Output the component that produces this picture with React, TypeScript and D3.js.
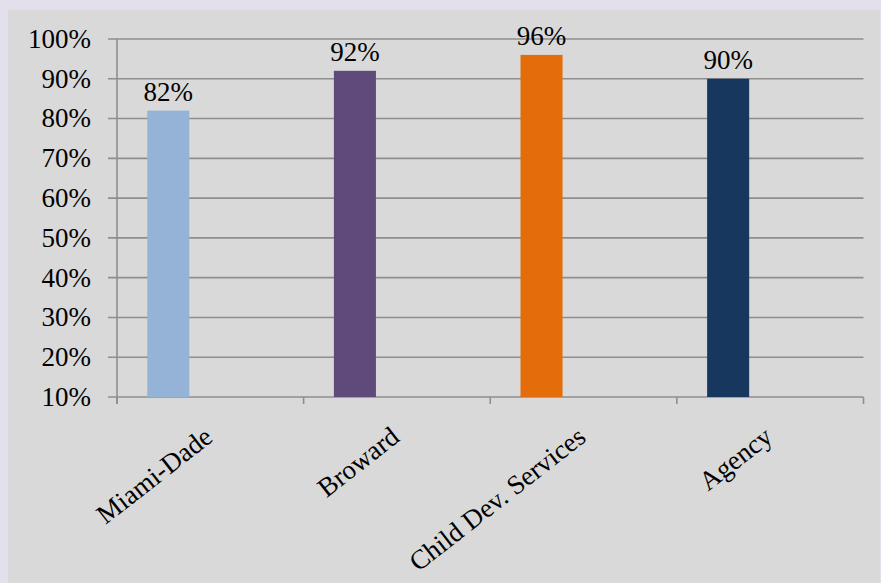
import { useRef, useEffect } from "react"
import * as d3 from "d3"

const categories = ["Miami-Dade", "Broward", "Child Dev. Services", "Agency"]
const values = [0.82, 0.92, 0.96, 0.9]
const barColors = ["#95b3d7", "#604a7b", "#e46c0a", "#17375e"]
const yTicks = [0.1, 0.2, 0.3, 0.4, 0.5, 0.6, 0.7, 0.8, 0.9, 1.0]

export default function App() {
  const svgRef = useRef<SVGSVGElement>(null)

  useEffect(() => {
    if (!svgRef.current) return
    const svg = d3.select(svgRef.current)
    svg.selectAll("*").remove()

    const width = 881
    const height = 583
    const font = "'Liberation Serif', 'Times New Roman', serif"
    const fontSize = 27
    const gridColor = "#8e8e8e"

    // backgrounds
    svg.append("rect").attr("width", width).attr("height", height).attr("fill", "#e4dfec")
    svg.append("rect").attr("x", 8).attr("y", 10).attr("width", 872).attr("height", height - 10).attr("fill", "#d9d9d9")

    const left = 117
    const right = 863.5
    const top = 39
    const bottom = 397

    const y = d3.scaleLinear().domain([0.1, 1.0]).range([bottom, top])
    const x = d3.scaleBand<string>().domain(categories).range([left, right]).padding(0)
    // each category holds three series slots, only the first is filled
    const slot = d3.scaleBand<string>().domain(["a", "b", "c"]).range([0, x.bandwidth()]).paddingInner(0).paddingOuter(0.72)

    const g = svg.append("g")

    // gridlines + y ticks
    g.selectAll("line.grid")
      .data(yTicks)
      .join("line")
      .attr("class", "grid")
      .attr("x1", left - 9)
      .attr("x2", right)
      .attr("y1", (d) => y(d))
      .attr("y2", (d) => y(d))
      .attr("stroke", gridColor)
      .attr("stroke-width", 1.6)

    // y axis line
    g.append("line")
      .attr("x1", left)
      .attr("x2", left)
      .attr("y1", top)
      .attr("y2", bottom + 7)
      .attr("stroke", gridColor)
      .attr("stroke-width", 1.6)

    // category ticks
    const tickXs = categories.map((c) => x(c)!).concat([right])
    g.selectAll("line.xtick")
      .data(tickXs)
      .join("line")
      .attr("class", "xtick")
      .attr("x1", (d) => d)
      .attr("x2", (d) => d)
      .attr("y1", bottom)
      .attr("y2", bottom + 7)
      .attr("stroke", gridColor)
      .attr("stroke-width", 1.6)

    // y labels
    g.selectAll("text.ylab")
      .data(yTicks)
      .join("text")
      .attr("class", "ylab")
      .attr("x", 91)
      .attr("y", (d) => y(d))
      .attr("dy", "0.33em")
      .attr("text-anchor", "end")
      .attr("font-family", font)
      .attr("font-size", fontSize)
      .attr("fill", "#000")
      .text((d) => d3.format(".0%")(d))

    // bars
    g.selectAll("rect.bar")
      .data(values)
      .join("rect")
      .attr("class", "bar")
      .attr("x", (_, i) => x(categories[i])! + slot("a")!)
      .attr("width", slot.bandwidth())
      .attr("y", (d) => y(d))
      .attr("height", (d) => bottom - y(d))
      .attr("fill", (_, i) => barColors[i])

    // value labels
    g.selectAll("text.val")
      .data(values)
      .join("text")
      .attr("class", "val")
      .attr("x", (_, i) => x(categories[i])! + slot("a")! + slot.bandwidth() / 2)
      .attr("y", (d) => y(d) - 10)
      .attr("text-anchor", "middle")
      .attr("font-family", font)
      .attr("font-size", fontSize)
      .attr("fill", "#000")
      .text((d) => d3.format(".0%")(d))

    // category labels
    g.selectAll("text.cat")
      .data(categories)
      .join("text")
      .attr("class", "cat")
      .attr("transform", (d) => `translate(${x(d)! + x.bandwidth() / 2 + 4}, ${bottom + 43}) rotate(-38)`)
      .attr("text-anchor", "end")
      .attr("font-family", font)
      .attr("font-size", fontSize)
      .attr("fill", "#000")
      .text((d) => d)
  }, [])

  return (
    <div style={{ position: "absolute", left: 0, top: 0 }}>
      <svg ref={svgRef} width={881} height={583} style={{ display: "block" }} />
    </div>
  )
}
